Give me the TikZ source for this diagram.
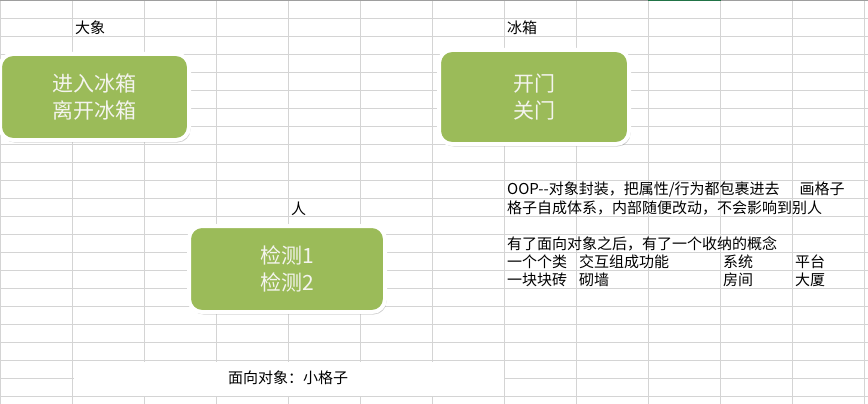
\documentclass[tikz,border=0pt]{standalone}
\usepackage{fontspec}
\setmainfont{Noto Sans CJK SC}
\usetikzlibrary{shadows}
\definecolor{gridc}{HTML}{D4D4D4}
\definecolor{topc}{HTML}{9E9E9E}
\definecolor{selc}{HTML}{217346}
\definecolor{boxgreen}{HTML}{9BBB59}
\definecolor{boxtext}{HTML}{F4F4EE}
\tikzset{
  gridline/.style={draw=gridc, line width=1pt},
  gbox/.style={draw=white, line width=4pt, fill=boxgreen, rounded corners=13pt,
    align=center, text=boxtext, inner sep=0pt,
    font=\fontsize{21pt}{27pt}\selectfont,
    drop shadow={shadow xshift=1.5pt, shadow yshift=-2.5pt, opacity=0.3, fill=black!60}},
  lbl/.style={anchor=west, inner sep=0pt, text=black, font=\fontsize{15pt}{18pt}\selectfont},
}
\begin{document}
\begin{tikzpicture}[x=1pt,y=-1pt]
\useasboundingbox (0,0) rectangle (868,404);
\fill[white] (0,0) rectangle (868,404);
% grid
\foreach \gx in {0,72,144,...,864} {
  \draw[gridline] (\gx+0.5,0) -- (\gx+0.5,404);
}
\foreach \gy in {18,36,...,396} {
  \draw[gridline] (0,\gy+0.5) -- (868,\gy+0.5);
}
% merged cell
\fill[white] (73.5,361.5) rectangle (503.5,395.5);
% top border
\draw[topc, line width=1.5pt] (0,0.75) -- (868,0.75);
\draw[selc, line width=1.5pt] (648,0.75) -- (721,0.75);
% boxes
\node[gbox, minimum width=189pt, minimum height=86pt] (b1) at (94.5,97) {进入冰箱\\离开冰箱};
\node[gbox, minimum width=190pt, minimum height=94pt] (b2) at (534,97) {开门\\关门};
\node[gbox, minimum width=196pt, minimum height=86pt] (b3) at (287,269) {检测1\\检测2};
% labels
\node[lbl] (l1) at (75,27.5) {大象};
\node[lbl] (l2) at (507,27.5) {冰箱};
\node[lbl] (l3) at (291,208.5) {人};
\node[lbl] (t1) at (507,190) {OOP-{}-对象封装，把属性/行为都包裹进去\hspace{20pt}画格子};
\node[lbl] (t2) at (507,208) {格子自成体系，内部随便改动，不会影响到别人};
\node[lbl] (t3) at (507,244) {有了面向对象之后，有了一个收纳的概念};
\node[lbl] (t4) at (507,262) {一个个类};
\node[lbl] (t5) at (579,262) {交互组成功能};
\node[lbl] (t6) at (723,262) {系统};
\node[lbl] (t7) at (795,262) {平台};
\node[lbl] (t8) at (507,280) {一块块砖};
\node[lbl] (t9) at (579,280) {砌墙};
\node[lbl] (t10) at (723,280) {房间};
\node[lbl] (t11) at (795,280) {大厦};
\node[lbl, anchor=center] (m1) at (288,378) {面向对象：小格子};
\end{tikzpicture}
\end{document}
